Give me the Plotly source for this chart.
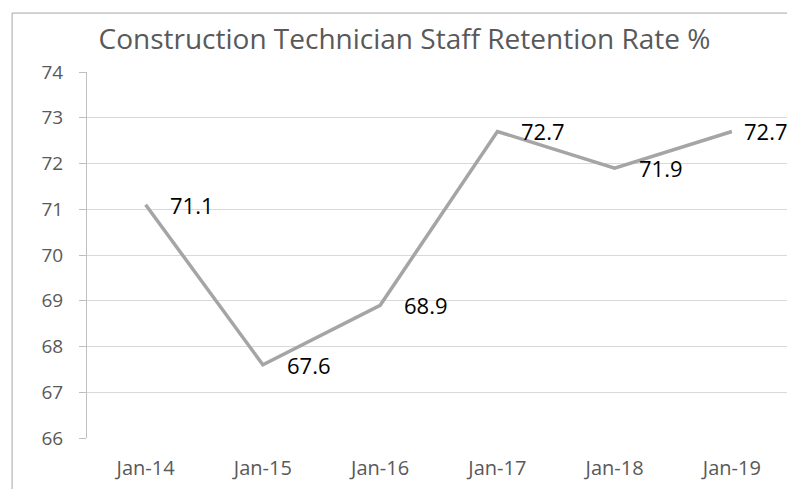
import plotly.graph_objects as go

categories = ["Jan-14", "Jan-15", "Jan-16", "Jan-17", "Jan-18", "Jan-19"]
retention = [71.1, 67.6, 68.9, 72.7, 71.9, 72.7]
y_ticks = [66, 67, 68, 69, 70, 71, 72, 73, 74]
title_text = "Construction Technician Staff Retention Rate %"

FONT = "Open Sans, Lato, sans-serif"

fig = go.Figure()
fig.add_trace(go.Scatter(
    x=categories, y=retention, mode="lines",
    line=dict(color="#A5A5A5", width=3.5),
    hoverinfo="x+y", showlegend=False,
))

n = len(categories)
for i, (c, v) in enumerate(zip(categories, retention)):
    fig.add_annotation(
        x=c, y=v, text=f"{v:.1f}", showarrow=False,
        xanchor="left", yanchor="middle",
        xshift=10 if i == n - 1 else 22,
        font=dict(family=FONT, size=22, color="#000000"),
    )

# chart border
fig.add_shape(type="rect", xref="paper", yref="paper",
              x0=-0.107, x1=1.02, y0=-0.2, y1=1.161,
              line=dict(color="#A6A6A6", width=1), layer="below")

fig.update_layout(
    width=787, height=489,
    margin=dict(l=87, r=0, t=72, b=51),
    paper_bgcolor="white", plot_bgcolor="white",
    title=dict(text=title_text, x=0.514, xref="container", xanchor="center",
               y=1 - 39 / 489, yref="container", yanchor="middle",
               font=dict(family=FONT, size=28, color="#595959")),
    font=dict(family=FONT, color="#595959"),
    xaxis=dict(type="category", range=[-0.5, 5.47], showgrid=False,
               showline=False, ticks="", zeroline=False,
               tickfont=dict(size=20, color="#595959"), ticklabelstandoff=16),
    yaxis=dict(range=[66, 74], tickvals=y_ticks, showgrid=True,
               gridcolor="#D9D9D9", gridwidth=1.3, zeroline=False,
               showline=True, linecolor="#BFBFBF", linewidth=1,
               ticks="outside", ticklen=7, tickcolor="#BFBFBF",
               tickfont=dict(size=19, color="#595959"), ticklabelstandoff=12),
)

fig.write_html(
    "out.html",
    config={"displayModeBar": False},
    post_script="document.body.style.margin='0';document.body.style.overflow='hidden';",
)
